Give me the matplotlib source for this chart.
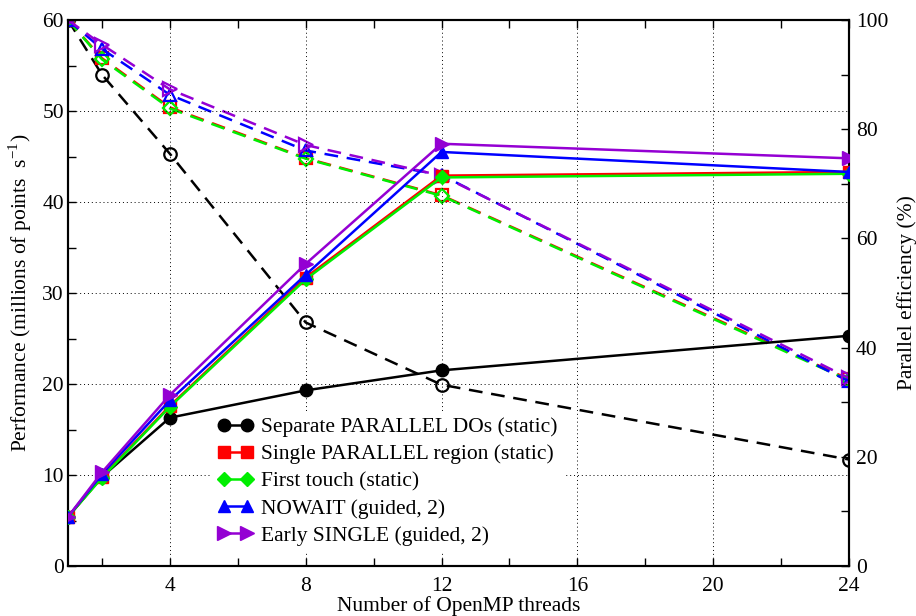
import matplotlib
matplotlib.use("Agg")
import matplotlib.pyplot as plt
from matplotlib.ticker import FixedLocator

plt.rcParams['font.family'] = ['Liberation Serif', 'DejaVu Serif']
plt.rcParams['mathtext.fontset'] = 'custom'
plt.rcParams['mathtext.rm'] = 'Liberation Serif'

threads = [1, 2, 4, 8, 12, 24]

labels = ["Separate PARALLEL DOs (static)",
          "Single PARALLEL region (static)",
          "First touch (static)",
          "NOWAIT (guided, 2)",
          "Early SINGLE (guided, 2)"]
colors = ["#000000", "#ff0000", "#00ee00", "#0000ff", "#9400d3"]
markers = ["o", "s", "D", "^", ">"]
msizes = [9, 8, 7, 9, 10]

# Performance (millions of points per second) – left axis
perf_separate = [5.4, 9.8, 16.3, 19.3, 21.5, 25.3]
perf_single = [5.4, 9.8, 17.6, 31.7, 42.9, 43.3]
perf_first = [5.4, 9.7, 17.5, 31.5, 42.7, 43.1]
perf_nowait = [5.4, 10.1, 18.2, 32.0, 45.5, 43.3]
perf_early = [5.4, 10.3, 18.8, 33.2, 46.4, 44.8]

# Parallel efficiency (%) – right axis
eff_separate = [100, 90.0, 75.5, 44.6, 33.2, 19.5]
eff_single = [100, 93.0, 84.0, 74.7, 67.9, 34.2]
eff_first = [100, 92.8, 83.8, 74.6, 67.8, 34.0]
eff_nowait = [100, 94.7, 86.3, 76.1, 71.6, 33.8]
eff_early = [100, 95.5, 87.3, 77.1, 71.5, 34.4]

perfs = [perf_separate, perf_single, perf_first, perf_nowait, perf_early]
effs = [eff_separate, eff_single, eff_first, eff_nowait, eff_early]

fig = plt.figure(figsize=(9.16, 6.16), dpi=100)
ax = fig.add_axes([68/916, 1-566/616, (849-68)/916, (566-20)/616])
ax2 = ax.twinx()

ax.set_xlim(1, 24)
ax.set_ylim(0, 60)
ax2.set_ylim(0, 100)

ax.xaxis.set_major_locator(FixedLocator([4, 8, 12, 16, 20, 24]))
ax.xaxis.set_minor_locator(FixedLocator([2, 6, 10, 14, 18, 22]))
ax.yaxis.set_major_locator(FixedLocator([0, 10, 20, 30, 40, 50, 60]))
ax.yaxis.set_minor_locator(FixedLocator([5, 15, 25, 35, 45, 55]))
ax2.yaxis.set_major_locator(FixedLocator([0, 20, 40, 60, 80, 100]))
ax2.yaxis.set_minor_locator(FixedLocator([10, 30, 50, 70, 90]))

fs = 15.5
for a in (ax, ax2):
    a.tick_params(which='both', direction='in', length=6, width=1.0, labelsize=fs)
    for s in a.spines.values():
        s.set_linewidth(1.5)
ax.tick_params(which='both', top=True, right=False)
ax.tick_params(axis='x', pad=8)
ax.tick_params(axis='y', pad=3)
ax2.tick_params(axis='y', pad=5)

ax.grid(True, which='major', linestyle=(0, (1, 3)), color='black', linewidth=0.7)

# efficiency (dashed, open markers) on right axis
for e, c, m, ms in zip(effs, colors, markers, msizes):
    ax2.plot(threads, e, color=c, linestyle=(0, (5.5, 3.5)), linewidth=1.8,
             marker=m, markersize=ms, markerfacecolor='none',
             markeredgecolor=c, markeredgewidth=1.6, zorder=3)

# performance (solid, filled markers) on left axis
handles = []
ax.set_zorder(ax2.get_zorder() + 1)
ax.patch.set_visible(False)
for p, c, m, ms, lab in zip(perfs, colors, markers, msizes, labels):
    h, = ax.plot(threads, p, color=c, linestyle='-', linewidth=1.8,
                 marker=m, markersize=ms, markerfacecolor=c,
                 markeredgecolor=c, label=lab, zorder=3)
    handles.append(h)

ax.set_xlabel("Number of OpenMP threads", fontsize=fs, labelpad=0)
ax.set_ylabel("Performance (millions of points  s$^{-1}$)", fontsize=fs, labelpad=6)
ax2.set_ylabel("Parallel efficiency (%)", fontsize=fs, labelpad=6)

leg = ax.legend(handles=handles, loc='lower left',
                bbox_to_anchor=(200/916, 1-563/616), bbox_transform=fig.transFigure,
                fontsize=fs, numpoints=2, handlelength=1.7, handletextpad=0.35,
                labelspacing=0.33, borderpad=0.3, frameon=True, fancybox=False)
leg.get_frame().set_edgecolor('none')
leg.get_frame().set_facecolor('white')
leg.get_frame().set_alpha(1.0)

fig.savefig("out.png", dpi=100)
